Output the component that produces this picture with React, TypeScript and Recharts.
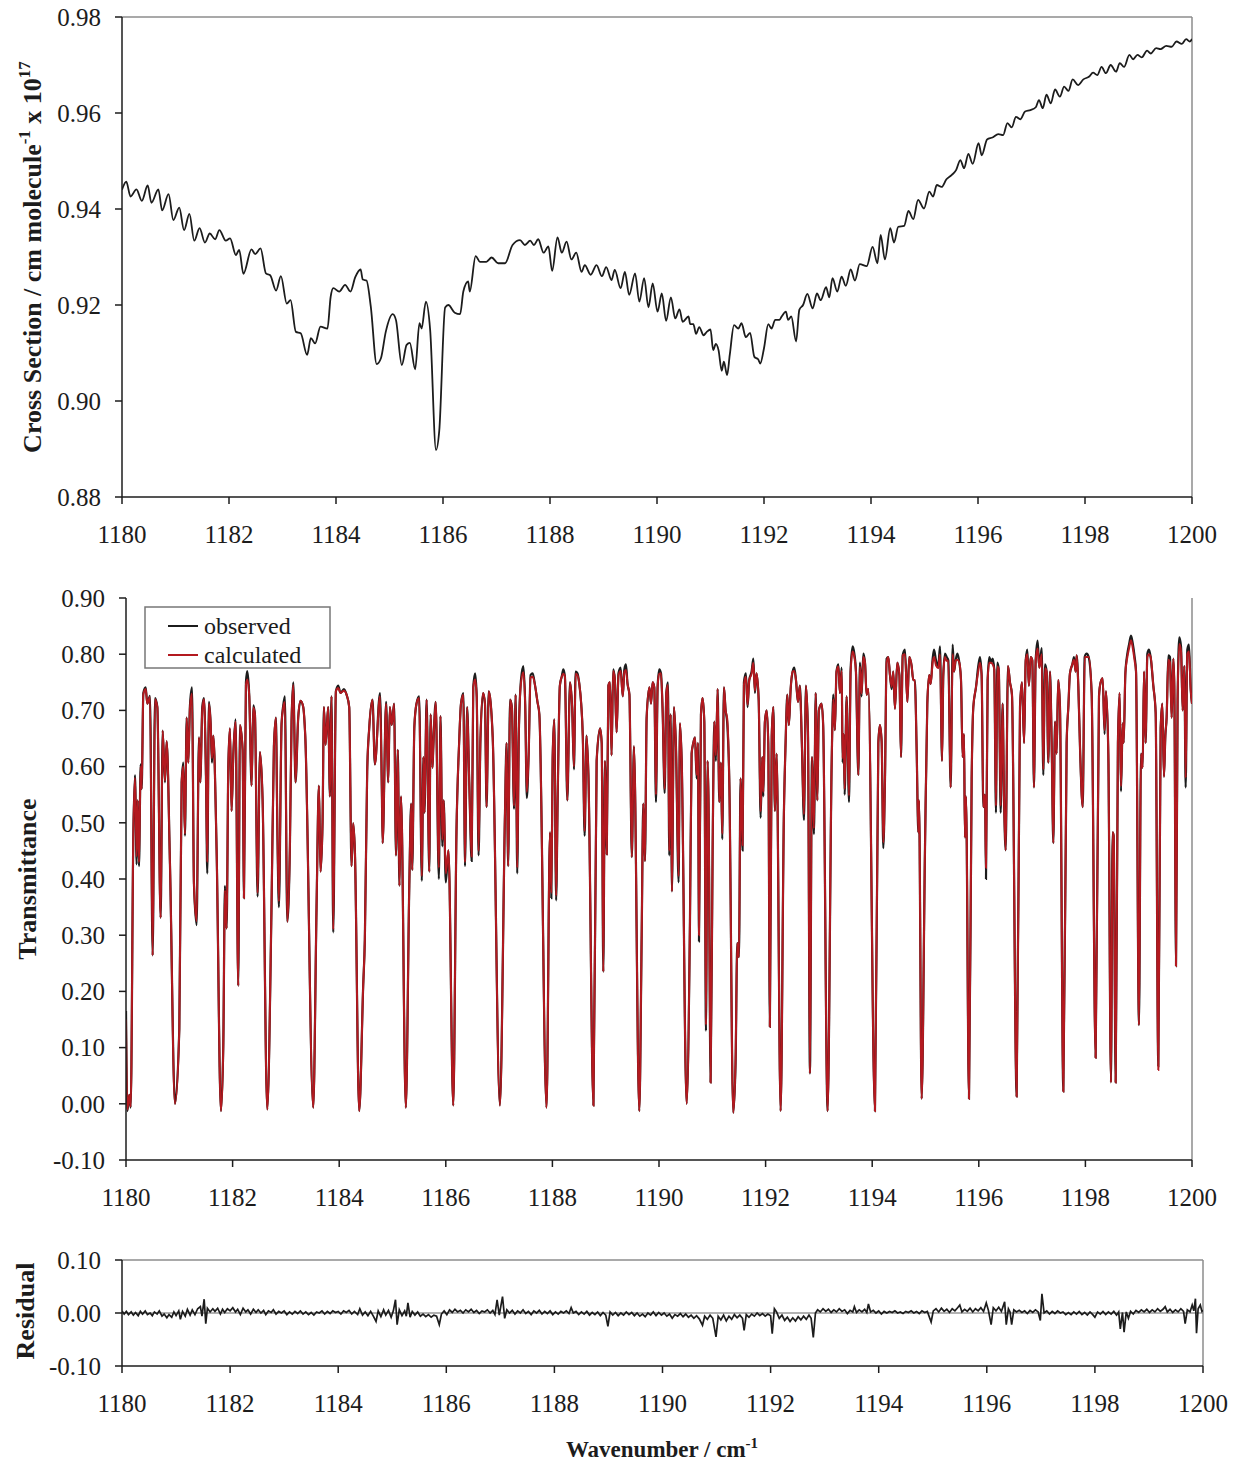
import React from 'react';
import { LineChart, Line, XAxis, YAxis, ReferenceLine } from 'recharts';

const FONT = '"Liberation Serif", "Times New Roman", serif';
const INK = '#1c1c1c';
const FRAME = '#8c8c8c';
const RED = '#b3191f';

const wavenumberTicks = [1180, 1182, 1184, 1186, 1188, 1190, 1192, 1194, 1196, 1198, 1200];
const crossSectionTicks = [0.88, 0.9, 0.92, 0.94, 0.96, 0.98];
const transmittanceTicks = [-0.1, 0, 0.1, 0.2, 0.3, 0.4, 0.5, 0.6, 0.7, 0.8, 0.9];
const residualTicks = [-0.1, 0, 0.1];

// [wavenumber, cross section (x 1e17)]
const crossSection: [number, number][] = [
  [1180.00, 0.9440], [1180.08, 0.9457], [1180.16, 0.9426], [1180.27, 0.9441], [1180.37, 0.9417], [1180.48, 0.9449],
  [1180.55, 0.9413], [1180.68, 0.9441], [1180.75, 0.9397], [1180.87, 0.9431], [1180.96, 0.9377], [1181.07, 0.9403],
  [1181.16, 0.9356], [1181.26, 0.9390], [1181.35, 0.9334], [1181.45, 0.9360], [1181.55, 0.9330], [1181.64, 0.9349],
  [1181.74, 0.9337], [1181.82, 0.9356], [1181.94, 0.9334], [1182.02, 0.9339], [1182.13, 0.9304], [1182.19, 0.9315],
  [1182.27, 0.9265], [1182.42, 0.9316], [1182.49, 0.9306], [1182.59, 0.9318], [1182.69, 0.9266], [1182.77, 0.9262],
  [1182.88, 0.9230], [1182.97, 0.9260], [1183.08, 0.9203], [1183.15, 0.9210], [1183.25, 0.9144], [1183.34, 0.9141],
  [1183.46, 0.9096], [1183.53, 0.9131], [1183.61, 0.9120], [1183.71, 0.9155], [1183.84, 0.9151], [1183.90, 0.9217],
  [1183.95, 0.9235], [1184.06, 0.9228], [1184.17, 0.9242], [1184.27, 0.9228], [1184.36, 0.9258], [1184.46, 0.9274],
  [1184.50, 0.9253], [1184.57, 0.9251], [1184.65, 0.9197], [1184.76, 0.9077], [1184.84, 0.9089], [1184.93, 0.9144],
  [1185.06, 0.9181], [1185.12, 0.9169], [1185.23, 0.9075], [1185.32, 0.9117], [1185.38, 0.9121], [1185.48, 0.9066],
  [1185.56, 0.9162], [1185.60, 0.9151], [1185.68, 0.9207], [1185.76, 0.9148], [1185.87, 0.8898], [1185.93, 0.8938],
  [1186.04, 0.9195], [1186.10, 0.9200], [1186.22, 0.9184], [1186.32, 0.9181], [1186.38, 0.9228], [1186.47, 0.9249],
  [1186.50, 0.9228], [1186.61, 0.9302], [1186.69, 0.9290], [1186.81, 0.9290], [1186.91, 0.9299], [1187.03, 0.9287],
  [1187.16, 0.9287], [1187.30, 0.9325], [1187.44, 0.9335], [1187.53, 0.9325], [1187.63, 0.9334], [1187.70, 0.9325],
  [1187.78, 0.9337], [1187.88, 0.9309], [1187.97, 0.9322], [1188.04, 0.9271], [1188.14, 0.9341], [1188.22, 0.9309],
  [1188.31, 0.9332], [1188.40, 0.9295], [1188.49, 0.9309], [1188.59, 0.9269], [1188.65, 0.9283], [1188.76, 0.9263],
  [1188.87, 0.9283], [1188.97, 0.9260], [1189.05, 0.9279], [1189.15, 0.9252], [1189.21, 0.9273], [1189.32, 0.9235],
  [1189.40, 0.9269], [1189.48, 0.9221], [1189.59, 0.9266], [1189.67, 0.9207], [1189.76, 0.9256], [1189.84, 0.9195],
  [1189.92, 0.9245], [1190.01, 0.9186], [1190.09, 0.9224], [1190.17, 0.9167], [1190.26, 0.9216], [1190.34, 0.9172],
  [1190.42, 0.9191], [1190.48, 0.9165], [1190.59, 0.9176], [1190.62, 0.9160], [1190.68, 0.9160], [1190.73, 0.9140],
  [1190.79, 0.9154], [1190.87, 0.9137], [1190.93, 0.9144], [1191.00, 0.9149], [1191.05, 0.9106], [1191.10, 0.9119],
  [1191.15, 0.9106], [1191.21, 0.9063], [1191.25, 0.9082], [1191.31, 0.9054], [1191.36, 0.9096], [1191.44, 0.9158],
  [1191.52, 0.9151], [1191.58, 0.9162], [1191.66, 0.9133], [1191.74, 0.9142], [1191.82, 0.9092], [1191.89, 0.9087],
  [1191.93, 0.9078], [1192.00, 0.9110], [1192.08, 0.9160], [1192.14, 0.9151], [1192.21, 0.9169], [1192.29, 0.9169],
  [1192.33, 0.9176], [1192.41, 0.9186], [1192.45, 0.9169], [1192.51, 0.9176], [1192.60, 0.9124], [1192.66, 0.9190],
  [1192.73, 0.9200], [1192.81, 0.9223], [1192.91, 0.9193], [1192.99, 0.9224], [1193.06, 0.9210], [1193.16, 0.9237],
  [1193.22, 0.9216], [1193.28, 0.9256], [1193.37, 0.9228], [1193.45, 0.9259], [1193.53, 0.9240], [1193.62, 0.9274],
  [1193.70, 0.9251], [1193.79, 0.9285], [1193.92, 0.9281], [1194.03, 0.9321], [1194.12, 0.9287], [1194.18, 0.9346],
  [1194.26, 0.9295], [1194.36, 0.9360], [1194.43, 0.9330], [1194.51, 0.9363], [1194.62, 0.9365], [1194.70, 0.9396],
  [1194.79, 0.9379], [1194.88, 0.9419], [1194.99, 0.9401], [1195.09, 0.9436], [1195.16, 0.9426], [1195.23, 0.9450],
  [1195.32, 0.9446], [1195.41, 0.9462], [1195.51, 0.9471], [1195.59, 0.9481], [1195.67, 0.9502], [1195.74, 0.9485],
  [1195.82, 0.9515], [1195.90, 0.9494], [1196.01, 0.9537], [1196.07, 0.9512], [1196.17, 0.9545], [1196.27, 0.9549],
  [1196.38, 0.9556], [1196.47, 0.9554], [1196.55, 0.9579], [1196.63, 0.9570], [1196.71, 0.9592], [1196.79, 0.9587],
  [1196.88, 0.9603], [1196.98, 0.9606], [1197.08, 0.9612], [1197.14, 0.9627], [1197.21, 0.9610], [1197.28, 0.9638],
  [1197.36, 0.9620], [1197.44, 0.9649], [1197.53, 0.9634], [1197.61, 0.9655], [1197.69, 0.9646], [1197.77, 0.9670],
  [1197.87, 0.9658], [1197.97, 0.9670], [1198.08, 0.9676], [1198.15, 0.9684], [1198.23, 0.9679], [1198.31, 0.9696],
  [1198.39, 0.9683], [1198.48, 0.9700], [1198.58, 0.9686], [1198.65, 0.9704], [1198.73, 0.9696], [1198.83, 0.9721],
  [1198.90, 0.9712], [1198.98, 0.9721], [1199.06, 0.9716], [1199.16, 0.9730], [1199.23, 0.9724], [1199.33, 0.9735],
  [1199.41, 0.9733], [1199.52, 0.9740], [1199.62, 0.9738], [1199.71, 0.9749], [1199.81, 0.9744], [1199.89, 0.9754],
  [1199.96, 0.9749], [1200.00, 0.9754],
];

// [wavenumber, observed, calculated]
const transmittance: [number, number, number][] = [
  [1180.000, 0.165, 0.150], [1180.025, -0.013, -0.010], [1180.063, 0.016, 0.016], [1180.088, -0.007, -0.005],
  [1180.138, 0.483, 0.483], [1180.169, 0.585, 0.580], [1180.200, 0.426, 0.440], [1180.219, 0.540, 0.540],
  [1180.244, 0.423, 0.430], [1180.275, 0.604, 0.600], [1180.294, 0.560, 0.560], [1180.325, 0.731, 0.728],
  [1180.369, 0.741, 0.738], [1180.400, 0.712, 0.712], [1180.450, 0.726, 0.724], [1180.500, 0.264, 0.264],
  [1180.544, 0.722, 0.720], [1180.588, 0.706, 0.706], [1180.650, 0.331, 0.331], [1180.688, 0.664, 0.664],
  [1180.731, 0.572, 0.575], [1180.763, 0.645, 0.645], [1180.825, 0.426, 0.426], [1180.919, 0.000, 0.000],
  [1181.000, 0.133, 0.133], [1181.044, 0.572, 0.572], [1181.075, 0.607, 0.600], [1181.106, 0.477, 0.480],
  [1181.138, 0.687, 0.687], [1181.169, 0.607, 0.607], [1181.200, 0.709, 0.705], [1181.238, 0.741, 0.730],
  [1181.275, 0.391, 0.391], [1181.325, 0.318, 0.325], [1181.369, 0.652, 0.652], [1181.394, 0.572, 0.572],
  [1181.431, 0.706, 0.700], [1181.463, 0.722, 0.720], [1181.500, 0.585, 0.585], [1181.525, 0.410, 0.430],
  [1181.556, 0.715, 0.712], [1181.588, 0.677, 0.677], [1181.613, 0.607, 0.615], [1181.638, 0.655, 0.655],
  [1181.700, 0.451, 0.451], [1181.781, -0.013, -0.013], [1181.825, 0.102, 0.102], [1181.856, 0.388, 0.380],
  [1181.888, 0.312, 0.312], [1181.919, 0.598, 0.598], [1181.950, 0.668, 0.668], [1181.981, 0.521, 0.521],
  [1182.013, 0.620, 0.620], [1182.056, 0.684, 0.680], [1182.106, 0.210, 0.210], [1182.138, 0.674, 0.674],
  [1182.188, 0.630, 0.630], [1182.213, 0.366, 0.366], [1182.250, 0.750, 0.745], [1182.275, 0.770, 0.755],
  [1182.313, 0.725, 0.725], [1182.356, 0.566, 0.566], [1182.388, 0.709, 0.705], [1182.419, 0.693, 0.693],
  [1182.469, 0.369, 0.375], [1182.513, 0.626, 0.626], [1182.563, 0.540, 0.540], [1182.650, -0.010, -0.010],
  [1182.731, 0.356, 0.356], [1182.775, 0.636, 0.636], [1182.813, 0.687, 0.687], [1182.838, 0.502, 0.502],
  [1182.869, 0.350, 0.360], [1182.919, 0.677, 0.677], [1182.950, 0.709, 0.705], [1182.981, 0.725, 0.715],
  [1183.025, 0.324, 0.324], [1183.075, 0.458, 0.458], [1183.106, 0.680, 0.680], [1183.138, 0.750, 0.745],
  [1183.181, 0.572, 0.572], [1183.231, 0.687, 0.687], [1183.275, 0.717, 0.717], [1183.325, 0.706, 0.706],
  [1183.363, 0.655, 0.655], [1183.513, -0.007, -0.007], [1183.575, 0.350, 0.350], [1183.619, 0.566, 0.566],
  [1183.650, 0.413, 0.413], [1183.688, 0.502, 0.502], [1183.713, 0.706, 0.706], [1183.744, 0.639, 0.639],
  [1183.794, 0.706, 0.706], [1183.825, 0.547, 0.547], [1183.856, 0.725, 0.725], [1183.888, 0.305, 0.310],
  [1183.938, 0.734, 0.734], [1183.981, 0.744, 0.740], [1184.025, 0.731, 0.731], [1184.088, 0.738, 0.735],
  [1184.138, 0.728, 0.728], [1184.188, 0.706, 0.706], [1184.231, 0.423, 0.423], [1184.263, 0.499, 0.499],
  [1184.294, 0.451, 0.451], [1184.375, -0.013, -0.013], [1184.450, 0.210, 0.210], [1184.481, 0.292, 0.292],
  [1184.525, 0.591, 0.591], [1184.563, 0.668, 0.668], [1184.625, 0.719, 0.719], [1184.669, 0.604, 0.604],
  [1184.765, 0.731, 0.725], [1184.800, 0.560, 0.560], [1184.815, 0.464, 0.464], [1184.880, 0.715, 0.712],
  [1184.920, 0.572, 0.572], [1184.950, 0.706, 0.706], [1184.985, 0.674, 0.674], [1185.030, 0.712, 0.712],
  [1185.065, 0.442, 0.442], [1185.100, 0.630, 0.630], [1185.130, 0.388, 0.388], [1185.160, 0.547, 0.547],
  [1185.250, -0.007, -0.007], [1185.315, 0.388, 0.388], [1185.350, 0.534, 0.534], [1185.370, 0.416, 0.416],
  [1185.410, 0.671, 0.671], [1185.450, 0.712, 0.712], [1185.500, 0.725, 0.722], [1185.550, 0.397, 0.405],
  [1185.580, 0.617, 0.617], [1185.600, 0.518, 0.518], [1185.640, 0.719, 0.719], [1185.690, 0.413, 0.413],
  [1185.715, 0.693, 0.693], [1185.750, 0.598, 0.598], [1185.765, 0.633, 0.633], [1185.810, 0.715, 0.715],
  [1185.870, 0.400, 0.420], [1185.900, 0.690, 0.690], [1185.935, 0.458, 0.470], [1185.960, 0.540, 0.540],
  [1186.000, 0.394, 0.410], [1186.050, 0.451, 0.451], [1186.140, -0.003, -0.003], [1186.200, 0.483, 0.483],
  [1186.250, 0.642, 0.642], [1186.285, 0.712, 0.712], [1186.330, 0.731, 0.728], [1186.360, 0.423, 0.430],
  [1186.400, 0.706, 0.706], [1186.440, 0.572, 0.572], [1186.485, 0.432, 0.440], [1186.515, 0.741, 0.741],
  [1186.550, 0.766, 0.755], [1186.580, 0.725, 0.725], [1186.615, 0.442, 0.450], [1186.650, 0.649, 0.649],
  [1186.700, 0.731, 0.731], [1186.735, 0.712, 0.712], [1186.765, 0.528, 0.528], [1186.805, 0.734, 0.734],
  [1186.840, 0.715, 0.715], [1186.880, 0.652, 0.652], [1187.015, -0.003, -0.003], [1187.110, 0.515, 0.515],
  [1187.140, 0.642, 0.642], [1187.170, 0.423, 0.423], [1187.205, 0.719, 0.719], [1187.240, 0.706, 0.706],
  [1187.280, 0.525, 0.530], [1187.310, 0.728, 0.728], [1187.340, 0.410, 0.420], [1187.370, 0.658, 0.658],
  [1187.410, 0.754, 0.748], [1187.455, 0.779, 0.768], [1187.490, 0.709, 0.709], [1187.520, 0.544, 0.555],
  [1187.555, 0.623, 0.623], [1187.590, 0.763, 0.758], [1187.630, 0.766, 0.760], [1187.675, 0.744, 0.744],
  [1187.720, 0.715, 0.715], [1187.755, 0.693, 0.693], [1187.890, -0.007, -0.007], [1187.955, 0.483, 0.483],
  [1187.980, 0.366, 0.375], [1188.005, 0.617, 0.617], [1188.035, 0.684, 0.684], [1188.070, 0.362, 0.370],
  [1188.100, 0.550, 0.550], [1188.140, 0.744, 0.744], [1188.175, 0.760, 0.760], [1188.205, 0.773, 0.765],
  [1188.235, 0.760, 0.760], [1188.280, 0.540, 0.540], [1188.330, 0.750, 0.750], [1188.370, 0.706, 0.706],
  [1188.405, 0.595, 0.600], [1188.435, 0.769, 0.765], [1188.470, 0.766, 0.762], [1188.505, 0.747, 0.747],
  [1188.540, 0.712, 0.712], [1188.570, 0.655, 0.655], [1188.605, 0.477, 0.485], [1188.640, 0.655, 0.655],
  [1188.675, 0.588, 0.588], [1188.770, -0.003, -0.003], [1188.830, 0.610, 0.610], [1188.895, 0.668, 0.668],
  [1188.925, 0.642, 0.642], [1188.955, 0.235, 0.235], [1188.985, 0.610, 0.610], [1189.020, 0.444, 0.444],
  [1189.050, 0.744, 0.744], [1189.080, 0.750, 0.750], [1189.110, 0.620, 0.620], [1189.140, 0.773, 0.770],
  [1189.170, 0.757, 0.757], [1189.205, 0.661, 0.661], [1189.240, 0.766, 0.762], [1189.280, 0.776, 0.770],
  [1189.320, 0.725, 0.725], [1189.350, 0.773, 0.768], [1189.380, 0.782, 0.772], [1189.410, 0.747, 0.747],
  [1189.445, 0.728, 0.728], [1189.490, 0.439, 0.439], [1189.530, 0.636, 0.636], [1189.630, -0.013, -0.013],
  [1189.675, 0.300, 0.300], [1189.705, 0.534, 0.534], [1189.737, 0.432, 0.432], [1189.768, 0.687, 0.687],
  [1189.820, 0.741, 0.741], [1189.850, 0.712, 0.712], [1189.880, 0.750, 0.750], [1189.912, 0.741, 0.741],
  [1189.943, 0.537, 0.550], [1189.975, 0.744, 0.744], [1190.006, 0.773, 0.765], [1190.037, 0.766, 0.766],
  [1190.068, 0.700, 0.700], [1190.106, 0.553, 0.560], [1190.137, 0.731, 0.731], [1190.168, 0.750, 0.745],
  [1190.193, 0.442, 0.450], [1190.218, 0.693, 0.693], [1190.243, 0.378, 0.378], [1190.281, 0.706, 0.706],
  [1190.318, 0.636, 0.636], [1190.368, 0.394, 0.405], [1190.393, 0.677, 0.677], [1190.425, 0.614, 0.614],
  [1190.518, 0.000, 0.000], [1190.581, 0.324, 0.324], [1190.612, 0.623, 0.623], [1190.643, 0.642, 0.642],
  [1190.675, 0.652, 0.652], [1190.706, 0.579, 0.585], [1190.731, 0.642, 0.642], [1190.750, 0.289, 0.300],
  [1190.787, 0.693, 0.693], [1190.818, 0.722, 0.722], [1190.850, 0.680, 0.680], [1190.881, 0.130, 0.140],
  [1190.912, 0.610, 0.610], [1190.930, 0.534, 0.534], [1190.968, 0.038, 0.038], [1191.006, 0.451, 0.451],
  [1191.037, 0.680, 0.680], [1191.068, 0.610, 0.620], [1191.100, 0.738, 0.738], [1191.131, 0.537, 0.537],
  [1191.162, 0.607, 0.607], [1191.187, 0.471, 0.480], [1191.218, 0.741, 0.741], [1191.250, 0.700, 0.700],
  [1191.280, 0.677, 0.685], [1191.318, 0.579, 0.579], [1191.393, -0.016, -0.016], [1191.437, 0.073, 0.080],
  [1191.468, 0.286, 0.286], [1191.500, 0.261, 0.261], [1191.530, 0.579, 0.579], [1191.568, 0.451, 0.460],
  [1191.593, 0.750, 0.745], [1191.630, 0.766, 0.760], [1191.662, 0.706, 0.710], [1191.693, 0.754, 0.754],
  [1191.737, 0.769, 0.765], [1191.770, 0.792, 0.785], [1191.800, 0.731, 0.735], [1191.830, 0.766, 0.766],
  [1191.870, 0.719, 0.719], [1191.907, 0.509, 0.520], [1191.937, 0.617, 0.617], [1191.957, 0.547, 0.555],
  [1191.987, 0.680, 0.680], [1192.020, 0.700, 0.700], [1192.050, 0.642, 0.642], [1192.080, 0.137, 0.137],
  [1192.115, 0.655, 0.655], [1192.145, 0.706, 0.706], [1192.175, 0.521, 0.521], [1192.207, 0.623, 0.623],
  [1192.282, -0.013, -0.013], [1192.343, 0.515, 0.515], [1192.375, 0.642, 0.642], [1192.407, 0.728, 0.728],
  [1192.437, 0.674, 0.674], [1192.470, 0.738, 0.738], [1192.507, 0.769, 0.769], [1192.538, 0.776, 0.770],
  [1192.570, 0.754, 0.754], [1192.607, 0.715, 0.715], [1192.643, 0.744, 0.744], [1192.680, 0.642, 0.642],
  [1192.720, 0.505, 0.515], [1192.757, 0.744, 0.744], [1192.795, 0.661, 0.661], [1192.832, 0.054, 0.054],
  [1192.870, 0.617, 0.617], [1192.907, 0.480, 0.490], [1192.940, 0.731, 0.731], [1192.970, 0.540, 0.540],
  [1193.000, 0.700, 0.700], [1193.050, 0.712, 0.712], [1193.080, 0.674, 0.674], [1193.163, -0.013, -0.013],
  [1193.240, 0.610, 0.610], [1193.270, 0.728, 0.720], [1193.300, 0.665, 0.665], [1193.330, 0.769, 0.769],
  [1193.365, 0.782, 0.778], [1193.395, 0.731, 0.731], [1193.427, 0.776, 0.770], [1193.445, 0.607, 0.615],
  [1193.465, 0.658, 0.658], [1193.483, 0.550, 0.560], [1193.520, 0.725, 0.725], [1193.565, 0.537, 0.548],
  [1193.595, 0.773, 0.768], [1193.633, 0.814, 0.805], [1193.665, 0.801, 0.795], [1193.695, 0.769, 0.769],
  [1193.740, 0.585, 0.585], [1193.770, 0.785, 0.778], [1193.800, 0.725, 0.730], [1193.833, 0.801, 0.795],
  [1193.865, 0.785, 0.785], [1193.895, 0.728, 0.728], [1193.927, 0.738, 0.738], [1194.052, -0.013, -0.013],
  [1194.115, 0.642, 0.642], [1194.145, 0.674, 0.674], [1194.177, 0.645, 0.645], [1194.208, 0.455, 0.465],
  [1194.240, 0.579, 0.579], [1194.270, 0.792, 0.785], [1194.302, 0.795, 0.795], [1194.333, 0.763, 0.763],
  [1194.365, 0.738, 0.742], [1194.395, 0.769, 0.769], [1194.427, 0.703, 0.703], [1194.470, 0.785, 0.785],
  [1194.510, 0.763, 0.763], [1194.540, 0.617, 0.617], [1194.572, 0.798, 0.798], [1194.615, 0.808, 0.800],
  [1194.660, 0.715, 0.715], [1194.695, 0.795, 0.795], [1194.740, 0.779, 0.779], [1194.770, 0.754, 0.754],
  [1194.800, 0.754, 0.754], [1194.834, 0.630, 0.630], [1194.865, 0.483, 0.483], [1194.878, 0.540, 0.540],
  [1194.928, 0.009, 0.009], [1194.990, 0.451, 0.451], [1195.034, 0.712, 0.712], [1195.070, 0.763, 0.763],
  [1195.097, 0.747, 0.747], [1195.134, 0.792, 0.785], [1195.160, 0.808, 0.795], [1195.197, 0.789, 0.780],
  [1195.240, 0.779, 0.775], [1195.272, 0.814, 0.800], [1195.310, 0.610, 0.610], [1195.334, 0.763, 0.763],
  [1195.366, 0.801, 0.795], [1195.397, 0.795, 0.788], [1195.428, 0.789, 0.789], [1195.472, 0.563, 0.563],
  [1195.510, 0.817, 0.800], [1195.535, 0.769, 0.769], [1195.566, 0.789, 0.789], [1195.597, 0.801, 0.790],
  [1195.635, 0.785, 0.785], [1195.666, 0.754, 0.754], [1195.697, 0.617, 0.617], [1195.722, 0.658, 0.658],
  [1195.740, 0.474, 0.474], [1195.760, 0.547, 0.547], [1195.816, 0.009, 0.009], [1195.866, 0.579, 0.579],
  [1195.897, 0.706, 0.706], [1195.947, 0.741, 0.741], [1195.990, 0.779, 0.770], [1196.022, 0.795, 0.785],
  [1196.053, 0.763, 0.763], [1196.085, 0.528, 0.528], [1196.116, 0.550, 0.550], [1196.135, 0.400, 0.420],
  [1196.166, 0.754, 0.754], [1196.197, 0.795, 0.785], [1196.229, 0.785, 0.785], [1196.260, 0.792, 0.782],
  [1196.290, 0.773, 0.773], [1196.322, 0.518, 0.530], [1196.347, 0.785, 0.778], [1196.375, 0.773, 0.773],
  [1196.410, 0.518, 0.530], [1196.447, 0.712, 0.712], [1196.473, 0.544, 0.544], [1196.504, 0.451, 0.451],
  [1196.547, 0.779, 0.779], [1196.585, 0.750, 0.750], [1196.622, 0.728, 0.728], [1196.710, 0.013, 0.013],
  [1196.773, 0.706, 0.706], [1196.810, 0.750, 0.750], [1196.850, 0.642, 0.642], [1196.880, 0.789, 0.789],
  [1196.910, 0.808, 0.800], [1196.940, 0.744, 0.744], [1196.973, 0.795, 0.795], [1197.004, 0.789, 0.789],
  [1197.035, 0.563, 0.563], [1197.067, 0.789, 0.789], [1197.104, 0.824, 0.810], [1197.135, 0.776, 0.776],
  [1197.180, 0.811, 0.800], [1197.210, 0.585, 0.595], [1197.242, 0.782, 0.775], [1197.273, 0.769, 0.769],
  [1197.304, 0.607, 0.607], [1197.336, 0.769, 0.769], [1197.367, 0.642, 0.642], [1197.398, 0.464, 0.464],
  [1197.430, 0.680, 0.680], [1197.460, 0.623, 0.623], [1197.490, 0.754, 0.754], [1197.523, 0.706, 0.706],
  [1197.586, 0.022, 0.022], [1197.648, 0.642, 0.642], [1197.680, 0.706, 0.706], [1197.710, 0.766, 0.766],
  [1197.755, 0.782, 0.782], [1197.786, 0.795, 0.790], [1197.817, 0.769, 0.769], [1197.836, 0.798, 0.798],
  [1197.867, 0.744, 0.744], [1197.900, 0.630, 0.630], [1197.950, 0.528, 0.528], [1197.986, 0.795, 0.795],
  [1198.024, 0.801, 0.795], [1198.061, 0.795, 0.795], [1198.117, 0.731, 0.731], [1198.192, 0.082, 0.082],
  [1198.255, 0.725, 0.725], [1198.286, 0.750, 0.750], [1198.324, 0.757, 0.757], [1198.360, 0.658, 0.665],
  [1198.386, 0.734, 0.734], [1198.430, 0.623, 0.623], [1198.480, 0.038, 0.038], [1198.510, 0.483, 0.483],
  [1198.530, 0.477, 0.477], [1198.568, 0.038, 0.038], [1198.610, 0.642, 0.642], [1198.642, 0.731, 0.731],
  [1198.668, 0.556, 0.565], [1198.700, 0.677, 0.677], [1198.718, 0.642, 0.642], [1198.750, 0.766, 0.766],
  [1198.787, 0.801, 0.795], [1198.818, 0.817, 0.810], [1198.855, 0.833, 0.825], [1198.887, 0.820, 0.812],
  [1198.924, 0.795, 0.788], [1198.950, 0.769, 0.769], [1199.005, 0.140, 0.140], [1199.043, 0.623, 0.623],
  [1199.074, 0.598, 0.598], [1199.100, 0.769, 0.769], [1199.130, 0.642, 0.642], [1199.162, 0.801, 0.795],
  [1199.193, 0.808, 0.800], [1199.224, 0.795, 0.795], [1199.274, 0.744, 0.744], [1199.318, 0.696, 0.696],
  [1199.368, 0.067, 0.060], [1199.412, 0.668, 0.668], [1199.443, 0.712, 0.712], [1199.474, 0.582, 0.582],
  [1199.500, 0.655, 0.655], [1199.524, 0.687, 0.687], [1199.556, 0.798, 0.790], [1199.587, 0.795, 0.785],
  [1199.618, 0.687, 0.687], [1199.650, 0.792, 0.792], [1199.668, 0.744, 0.744], [1199.700, 0.245, 0.245],
  [1199.730, 0.719, 0.719], [1199.762, 0.830, 0.818], [1199.794, 0.814, 0.805], [1199.825, 0.700, 0.700],
  [1199.856, 0.779, 0.779], [1199.881, 0.563, 0.580], [1199.912, 0.808, 0.800], [1199.943, 0.817, 0.805],
  [1199.975, 0.738, 0.738], [1200.000, 0.712, 0.712],
];

// [wavenumber, observed - calculated]
const residual: [number, number][] = [
  [1180.00, 0.004], [1180.04, -0.002], [1180.08, 0.003], [1180.12, -0.003], [1180.17, 0.002], [1180.21, -0.004],
  [1180.25, 0.001], [1180.30, -0.005], [1180.34, 0.003], [1180.38, -0.002], [1180.43, 0.004], [1180.47, -0.003],
  [1180.52, 0.000], [1180.56, -0.005], [1180.60, 0.002], [1180.65, -0.002], [1180.69, 0.004], [1180.74, -0.006],
  [1180.78, -0.002], [1180.83, -0.009], [1180.87, -0.003], [1180.92, -0.008], [1180.96, 0.002], [1181.00, -0.005],
  [1181.05, 0.004], [1181.08, -0.012], [1181.12, 0.003], [1181.17, -0.006], [1181.21, 0.007], [1181.26, -0.004],
  [1181.30, 0.006], [1181.35, -0.003], [1181.40, 0.008], [1181.45, 0.012], [1181.48, -0.006], [1181.52, 0.026],
  [1181.55, -0.020], [1181.58, 0.009], [1181.63, 0.002], [1181.68, 0.008], [1181.72, 0.003], [1181.77, 0.009],
  [1181.82, -0.002], [1181.86, 0.007], [1181.90, 0.001], [1181.95, 0.008], [1182.00, 0.004], [1182.05, 0.010],
  [1182.10, 0.002], [1182.14, 0.007], [1182.19, -0.003], [1182.24, 0.009], [1182.29, 0.002], [1182.33, 0.006],
  [1182.38, -0.002], [1182.43, 0.007], [1182.48, 0.001], [1182.52, 0.006], [1182.57, 0.000], [1182.62, 0.005],
  [1182.66, -0.003], [1182.71, 0.004], [1182.76, 0.001], [1182.80, 0.006], [1182.85, -0.002], [1182.90, 0.003],
  [1182.95, 0.000], [1183.00, 0.004], [1183.05, -0.003], [1183.10, 0.002], [1183.15, -0.002], [1183.20, 0.003],
  [1183.25, -0.001], [1183.30, 0.004], [1183.35, -0.002], [1183.40, 0.002], [1183.45, -0.003], [1183.50, 0.001],
  [1183.55, -0.004], [1183.60, 0.002], [1183.65, 0.000], [1183.70, 0.004], [1183.75, -0.002], [1183.80, 0.003],
  [1183.85, -0.001], [1183.90, 0.004], [1183.95, 0.001], [1184.00, 0.003], [1184.05, -0.002], [1184.10, 0.004],
  [1184.15, 0.001], [1184.20, 0.005], [1184.25, -0.002], [1184.30, 0.003], [1184.36, -0.003], [1184.40, 0.008],
  [1184.45, -0.004], [1184.50, 0.002], [1184.55, -0.005], [1184.60, 0.003], [1184.65, -0.006], [1184.70, -0.016],
  [1184.74, 0.004], [1184.79, -0.007], [1184.84, 0.006], [1184.88, -0.004], [1184.93, 0.005], [1184.98, -0.008],
  [1185.02, 0.004], [1185.06, 0.025], [1185.09, -0.022], [1185.13, 0.006], [1185.18, -0.005], [1185.23, 0.004],
  [1185.26, -0.006], [1185.29, 0.019], [1185.33, -0.008], [1185.37, 0.003], [1185.42, -0.004], [1185.47, 0.002],
  [1185.52, -0.006], [1185.57, -0.002], [1185.62, -0.007], [1185.67, -0.003], [1185.72, -0.008], [1185.77, -0.004],
  [1185.82, -0.006], [1185.87, -0.022], [1185.91, -0.002], [1185.96, 0.004], [1186.01, -0.003], [1186.06, 0.006],
  [1186.11, 0.001], [1186.16, 0.007], [1186.21, 0.002], [1186.26, 0.005], [1186.31, 0.000], [1186.36, 0.006],
  [1186.41, 0.002], [1186.46, 0.007], [1186.51, 0.001], [1186.56, 0.005], [1186.61, -0.001], [1186.66, 0.004],
  [1186.71, 0.002], [1186.76, 0.006], [1186.81, 0.000], [1186.86, 0.005], [1186.90, -0.003], [1186.94, 0.025],
  [1186.98, -0.004], [1187.04, 0.031], [1187.08, -0.010], [1187.12, 0.006], [1187.17, 0.000], [1187.22, 0.005],
  [1187.27, -0.002], [1187.32, 0.004], [1187.37, 0.000], [1187.42, 0.006], [1187.47, -0.001], [1187.52, 0.003],
  [1187.57, -0.003], [1187.62, 0.004], [1187.67, 0.000], [1187.72, 0.005], [1187.77, -0.002], [1187.82, 0.003],
  [1187.87, -0.001], [1187.92, 0.004], [1187.97, -0.003], [1188.02, 0.002], [1188.07, -0.002], [1188.12, 0.003],
  [1188.17, 0.000], [1188.22, 0.004], [1188.27, -0.001], [1188.31, 0.010], [1188.35, 0.000], [1188.40, 0.003],
  [1188.45, -0.003], [1188.50, 0.002], [1188.55, -0.002], [1188.60, 0.003], [1188.65, -0.004], [1188.70, 0.001],
  [1188.75, -0.003], [1188.80, 0.002], [1188.85, -0.005], [1188.90, 0.001], [1188.95, -0.004], [1188.99, -0.025],
  [1189.03, 0.002], [1189.08, -0.004], [1189.13, 0.001], [1189.18, -0.005], [1189.23, 0.000], [1189.28, -0.004],
  [1189.33, 0.002], [1189.38, -0.003], [1189.43, 0.001], [1189.48, -0.005], [1189.53, 0.000], [1189.58, -0.006],
  [1189.63, -0.002], [1189.68, -0.007], [1189.73, 0.000], [1189.78, -0.004], [1189.83, 0.002], [1189.88, -0.005],
  [1189.93, 0.001], [1189.98, -0.004], [1190.03, 0.000], [1190.08, -0.006], [1190.13, -0.002], [1190.18, -0.010],
  [1190.23, -0.003], [1190.28, -0.006], [1190.33, -0.001], [1190.38, -0.007], [1190.43, -0.002], [1190.48, -0.008],
  [1190.53, -0.004], [1190.58, -0.010], [1190.63, -0.005], [1190.68, -0.011], [1190.74, -0.023], [1190.78, -0.006],
  [1190.83, -0.012], [1190.88, -0.004], [1190.93, -0.010], [1190.99, -0.045], [1191.03, -0.006], [1191.08, -0.013],
  [1191.13, -0.004], [1191.18, -0.015], [1191.23, -0.006], [1191.28, -0.012], [1191.33, -0.003], [1191.38, -0.009],
  [1191.43, -0.004], [1191.48, -0.010], [1191.51, -0.033], [1191.55, -0.003], [1191.60, -0.008], [1191.65, -0.002],
  [1191.70, -0.006], [1191.75, 0.000], [1191.80, -0.005], [1191.85, -0.001], [1191.90, -0.006], [1191.95, -0.002],
  [1192.00, -0.005], [1192.03, -0.039], [1192.07, 0.008], [1192.11, 0.002], [1192.16, -0.010], [1192.21, -0.004],
  [1192.26, -0.014], [1192.31, -0.008], [1192.36, -0.016], [1192.41, -0.009], [1192.46, -0.015], [1192.51, -0.007],
  [1192.56, -0.013], [1192.61, -0.006], [1192.66, -0.012], [1192.71, -0.004], [1192.75, -0.010], [1192.79, -0.046],
  [1192.83, 0.000], [1192.87, 0.006], [1192.92, 0.002], [1192.97, 0.008], [1193.02, 0.003], [1193.07, 0.007],
  [1193.12, 0.001], [1193.17, 0.006], [1193.22, 0.002], [1193.27, 0.008], [1193.32, 0.003], [1193.37, 0.006],
  [1193.42, -0.001], [1193.47, 0.005], [1193.52, 0.002], [1193.55, 0.012], [1193.59, 0.001], [1193.64, 0.006],
  [1193.69, 0.002], [1193.74, 0.007], [1193.78, 0.001], [1193.81, 0.017], [1193.85, 0.002], [1193.90, 0.005],
  [1193.95, 0.000], [1194.00, 0.004], [1194.05, -0.002], [1194.10, 0.003], [1194.15, 0.000], [1194.20, 0.003],
  [1194.25, 0.001], [1194.30, 0.004], [1194.35, 0.000], [1194.40, 0.002], [1194.45, -0.001], [1194.50, 0.003],
  [1194.55, 0.001], [1194.60, 0.004], [1194.65, 0.000], [1194.70, 0.003], [1194.75, -0.001], [1194.80, 0.004],
  [1194.85, 0.001], [1194.90, 0.003], [1194.97, -0.017], [1195.01, 0.004], [1195.06, 0.008], [1195.11, 0.002],
  [1195.16, 0.009], [1195.21, 0.003], [1195.26, 0.007], [1195.31, 0.001], [1195.36, 0.008], [1195.41, 0.004],
  [1195.46, 0.010], [1195.50, 0.015], [1195.54, 0.002], [1195.59, 0.007], [1195.64, 0.003], [1195.69, 0.009],
  [1195.74, 0.002], [1195.79, 0.008], [1195.84, 0.004], [1195.89, 0.010], [1195.94, 0.003], [1195.99, 0.019],
  [1196.03, 0.005], [1196.08, -0.022], [1196.12, 0.010], [1196.17, 0.004], [1196.22, 0.011], [1196.27, 0.003],
  [1196.33, 0.021], [1196.36, -0.022], [1196.40, 0.008], [1196.43, 0.002], [1196.46, -0.022], [1196.50, 0.006],
  [1196.55, 0.002], [1196.60, 0.005], [1196.65, 0.001], [1196.70, 0.004], [1196.75, -0.001], [1196.80, 0.005],
  [1196.85, 0.001], [1196.90, 0.006], [1196.95, 0.002], [1196.99, -0.014], [1197.02, 0.036], [1197.06, 0.000],
  [1197.11, 0.004], [1197.16, -0.002], [1197.21, 0.003], [1197.26, -0.001], [1197.31, 0.004], [1197.36, 0.000],
  [1197.41, 0.002], [1197.46, -0.003], [1197.51, 0.001], [1197.56, -0.003], [1197.61, 0.002], [1197.66, -0.002],
  [1197.71, 0.003], [1197.76, -0.003], [1197.81, 0.001], [1197.86, -0.004], [1197.91, 0.002], [1197.96, -0.003],
  [1198.00, -0.008], [1198.05, 0.002], [1198.10, -0.002], [1198.15, 0.003], [1198.20, -0.003], [1198.25, 0.002],
  [1198.30, -0.002], [1198.35, 0.003], [1198.40, -0.004], [1198.44, 0.002], [1198.47, -0.030], [1198.51, 0.001],
  [1198.54, -0.036], [1198.58, 0.002], [1198.62, -0.010], [1198.66, 0.003], [1198.71, -0.002], [1198.76, 0.005],
  [1198.81, 0.001], [1198.86, 0.006], [1198.91, 0.002], [1198.96, 0.007], [1199.01, 0.001], [1199.06, 0.006],
  [1199.11, 0.002], [1199.16, 0.008], [1199.21, 0.003], [1199.26, 0.007], [1199.30, 0.012], [1199.34, 0.002],
  [1199.39, 0.007], [1199.44, 0.001], [1199.49, 0.006], [1199.54, 0.002], [1199.59, 0.008], [1199.64, 0.003],
  [1199.67, -0.020], [1199.71, 0.006], [1199.76, 0.002], [1199.80, 0.015], [1199.83, 0.004], [1199.86, 0.027],
  [1199.88, -0.038], [1199.91, 0.008], [1199.95, 0.015], [1199.98, 0.003], [1200.00, 0.005],
];

const crossSectionData = crossSection.map(([wn, value]) => ({ wn, value }));
const transmittanceData = transmittance.map(([wn, observed, calculated]) => ({ wn, observed, calculated }));
const residualData = residual.map(([wn, value]) => ({ wn, value }));

const tickStyle = { fontSize: 25, fill: INK, fontFamily: FONT };
const axisStroke = { stroke: INK, strokeWidth: 1.5 };
const fmt = (v: number) => v.toFixed(2);

function xAxis() {
  return (
    <XAxis
      dataKey="wn"
      type="number"
      domain={[1180, 1200]}
      ticks={wavenumberTicks}
      interval={0}
      allowDataOverflow
      height={40}
      tickSize={7}
      tickMargin={21}
      tick={tickStyle}
      axisLine={axisStroke}
      tickLine={axisStroke}
    />
  );
}

function yAxis(domain: [number, number], ticks: number[]) {
  return (
    <YAxis
      type="number"
      domain={domain}
      ticks={ticks}
      interval={0}
      allowDataOverflow
      width={60}
      tickSize={7}
      tickMargin={14}
      tickFormatter={fmt}
      tick={tickStyle}
      axisLine={axisStroke}
      tickLine={axisStroke}
    />
  );
}

export default function App() {
  return (
    <div style={{ position: 'absolute', left: 0, top: 0, width: 1239, height: 1463, background: '#fff', fontFamily: FONT }}>
      <div style={{ position: 'absolute', left: 0, top: 0 }}>
        <LineChart width={1239} height={560} data={crossSectionData} margin={{ top: 17, right: 47, bottom: 23, left: 62 }}>
          {xAxis()}
          {yAxis([0.88, 0.98], crossSectionTicks)}
          <ReferenceLine y={0.98} stroke={FRAME} strokeWidth={1.5} />
          <ReferenceLine x={1200} stroke={FRAME} strokeWidth={1.5} />
          <Line type="monotone" dataKey="value" stroke={INK} strokeWidth={1.8} dot={false} isAnimationActive={false} />
        </LineChart>
      </div>

      <div style={{ position: 'absolute', left: 0, top: 560 }}>
        <LineChart width={1239} height={680} data={transmittanceData} margin={{ top: 38, right: 47, bottom: 40, left: 66 }}>
          {xAxis()}
          {yAxis([-0.1, 0.9], transmittanceTicks)}
          <ReferenceLine x={1200} stroke={FRAME} strokeWidth={1.5} />
          <Line type="monotone" dataKey="observed" stroke={INK} strokeWidth={2.2} dot={false} isAnimationActive={false} />
          <Line type="monotone" dataKey="calculated" stroke={RED} strokeWidth={2} dot={false} isAnimationActive={false} />
        </LineChart>
      </div>

      <div style={{ position: 'absolute', left: 0, top: 1240 }}>
        <LineChart width={1239} height={223} data={residualData} margin={{ top: 20, right: 36, bottom: 57, left: 62 }}>
          {xAxis()}
          {yAxis([-0.1, 0.1], residualTicks)}
          <ReferenceLine y={0.1} stroke={FRAME} strokeWidth={1.5} />
          <ReferenceLine x={1200} stroke={FRAME} strokeWidth={1.5} />
          <ReferenceLine y={0} stroke="#666" strokeWidth={1.2} />
          <Line type="linear" dataKey="value" stroke={INK} strokeWidth={1.7} dot={false} isAnimationActive={false} />
        </LineChart>
      </div>

      <svg width={1239} height={1463} style={{ position: 'absolute', left: 0, top: 0, pointerEvents: 'none' }}>
        <g fontFamily={FONT} fill={INK}>
          <rect x={145} y={607} width={185} height={61} fill="#fff" stroke="#777" strokeWidth={1.5} />
          <line x1={168} x2={198} y1={626} y2={626} stroke={INK} strokeWidth={2} />
          <text x={204} y={634} fontSize={24}>observed</text>
          <line x1={168} x2={198} y1={655} y2={655} stroke={RED} strokeWidth={2} />
          <text x={204} y={663} fontSize={24}>calculated</text>

          <text transform="translate(41,257) rotate(-90)" textAnchor="middle" fontSize={26} fontWeight="bold">
            Cross Section / cm molecule<tspan dy={-11} fontSize={17}>-1</tspan>
            <tspan dy={11}> x 10</tspan><tspan dy={-11} fontSize={17}>17</tspan>
          </text>
          <text transform="translate(36,879) rotate(-90)" textAnchor="middle" fontSize={26} fontWeight="bold">
            Transmittance
          </text>
          <text transform="translate(34,1311) rotate(-90)" textAnchor="middle" fontSize={26} fontWeight="bold">
            Residual
          </text>
          <text x={662} y={1457} textAnchor="middle" fontSize={23} fontWeight="bold">
            Wavenumber / cm<tspan dy={-9} fontSize={15}>-1</tspan>
          </text>
        </g>
      </svg>
    </div>
  );
}
